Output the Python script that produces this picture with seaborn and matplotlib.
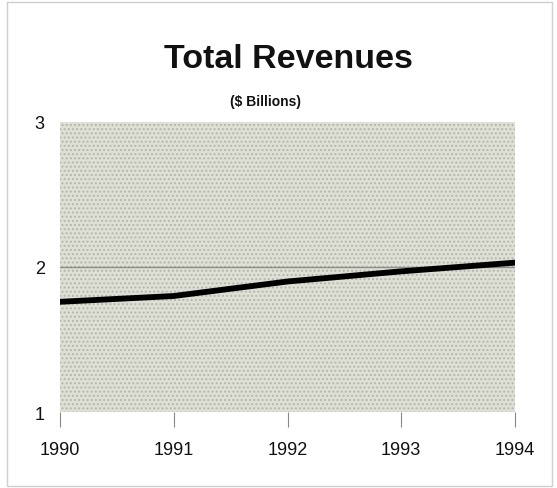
import matplotlib
matplotlib.use("Agg")
import matplotlib.pyplot as plt
import seaborn as sns
import pandas as pd
from matplotlib.patches import Rectangle

years = [1990, 1991, 1992, 1993, 1994]
revenues = [1.76, 1.80, 1.90, 1.97, 2.03]
y_ticks = [1, 2, 3]

sns.set_style("white")
plt.rcParams["font.family"] = ["Liberation Sans", "DejaVu Sans"]
plt.rcParams["hatch.linewidth"] = 0.9

df = pd.DataFrame({"year": years, "revenue": revenues})

fig = plt.figure(figsize=(5.57, 4.89), dpi=100)
fig.patch.set_facecolor("white")
# thin frame around the whole chart
fig.add_artist(Rectangle((7 / 557, 1 - 487 / 489), 545 / 557, 484 / 489,
                         transform=fig.transFigure, fill=False,
                         edgecolor="#cfcfcf", linewidth=1.0))

ax = fig.add_axes([60 / 557, 1 - 413 / 489, 455 / 557, 290 / 489])
ax.set_facecolor("white")
# stippled plot-area background
ax.add_patch(Rectangle((0, 0), 1, 1, transform=ax.transAxes,
                       facecolor="#dedfd5", edgecolor="#b4b5aa",
                       linewidth=0, hatch="....", zorder=0))

ax.axhline(2, color="#8a8f8a", linewidth=1.0, zorder=1)
sns.lineplot(data=df, x="year", y="revenue", ax=ax, color="black",
             linewidth=4.2, zorder=3)

ax.set_xlim(years[0], years[-1])
ax.set_ylim(1, 3)
ax.set_xticks(years)
ax.set_xticklabels([str(y) for y in years], fontsize=13, color="#111111")
ax.set_yticks(y_ticks)
ax.set_yticklabels([str(t) for t in y_ticks], fontsize=13, color="#111111")
ax.set_xlabel("")
ax.set_ylabel("")
for s in ax.spines.values():
    s.set_visible(False)
ax.tick_params(axis="x", length=11, width=0.8, color="#888888", pad=10,
               direction="out", bottom=True)
ax.tick_params(axis="y", length=0, pad=11)

fig.text(288 / 557, 1 - 60 / 489, "Total Revenues", ha="center", va="center",
         fontsize=24.5, fontweight="bold", color="#111111")
fig.text(266 / 557, 1 - 102 / 489, "($ Billions)", ha="center", va="center",
         fontsize=10, fontweight="bold", color="#111111")

fig.savefig("out.png", dpi=100)
